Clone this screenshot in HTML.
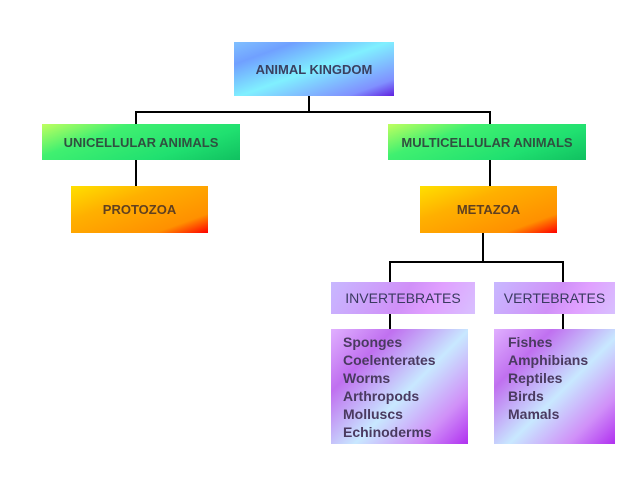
<!DOCTYPE html><html><head><style>
body{margin:0;width:640px;height:480px;background:#fff;position:relative;font-family:"Liberation Sans",sans-serif;overflow:hidden}
.b{position:absolute;display:flex;align-items:center;justify-content:center;font-weight:bold;font-size:13px;color:#3a4060;box-sizing:border-box}
.l{position:absolute;background:#000}
.list{position:absolute;font-weight:bold;font-size:14px;color:#4a3a60;line-height:18px;box-sizing:border-box;background:linear-gradient(135deg,#e0b0ff 0%,#c070f0 25%,#c8e8ff 55%,#d090f8 80%,#b030f0 100%)}
</style></head><body>
<div class="l" style="left:308px;top:96px;width:2px;height:17px"></div>
<div class="l" style="left:135px;top:111px;width:356px;height:2px"></div>
<div class="l" style="left:135px;top:111px;width:2px;height:75px"></div>
<div class="l" style="left:489px;top:111px;width:2px;height:75px"></div>
<div class="l" style="left:482px;top:233px;width:2px;height:30px"></div>
<div class="l" style="left:389px;top:261px;width:175px;height:2px"></div>
<div class="l" style="left:389px;top:261px;width:2px;height:68px"></div>
<div class="l" style="left:562px;top:261px;width:2px;height:68px"></div>
<div class="b" style="left:234px;top:42px;width:160px;height:54px;background:linear-gradient(160deg,#80c0ff 0%,#70a0ff 20%,#80f0ff 50%,#8090ff 85%,#6020e0 100%)">ANIMAL KINGDOM</div>
<div class="b" style="left:42px;top:124px;width:198px;height:36px;background:linear-gradient(160deg,#c0ff60 0%,#40f070 30%,#20e070 70%,#10c060 100%);color:#305040">UNICELLULAR ANIMALS</div>
<div class="b" style="left:388px;top:124px;width:198px;height:36px;background:linear-gradient(160deg,#c0ff60 0%,#40f070 30%,#20e070 70%,#10c060 100%);color:#305040">MULTICELLULAR ANIMALS</div>
<div class="b" style="left:71px;top:186px;width:137px;height:47px;background:linear-gradient(160deg,#ffe000 0%,#ffb000 35%,#ff9000 80%,#ff0000 100%);color:#604020">PROTOZOA</div>
<div class="b" style="left:420px;top:186px;width:137px;height:47px;background:linear-gradient(160deg,#ffe000 0%,#ffb000 35%,#ff9000 80%,#ff0000 100%);color:#604020">METAZOA</div>
<div class="b" style="left:331px;top:282px;width:144px;height:32px;background:linear-gradient(120deg,#c8b8ff 0%,#d090f8 50%,#e0a0ff 70%,#d8c0ff 100%);font-weight:normal;font-size:14px;color:#3a3a60">INVERTEBRATES</div>
<div class="b" style="left:494px;top:282px;width:121px;height:32px;background:linear-gradient(120deg,#c8b8ff 0%,#d090f8 50%,#e0a0ff 70%,#d8c0ff 100%);font-weight:normal;font-size:14px;color:#3a3a60">VERTEBRATES</div>
<div class="list" style="left:331px;top:329px;width:137px;height:115px;padding:4px 0 0 12px">Sponges<br>Coelenterates<br>Worms<br>Arthropods<br>Molluscs<br>Echinoderms</div>
<div class="list" style="left:494px;top:329px;width:121px;height:115px;padding:4px 0 0 14px">Fishes<br>Amphibians<br>Reptiles<br>Birds<br>Mamals</div>
</body></html>
